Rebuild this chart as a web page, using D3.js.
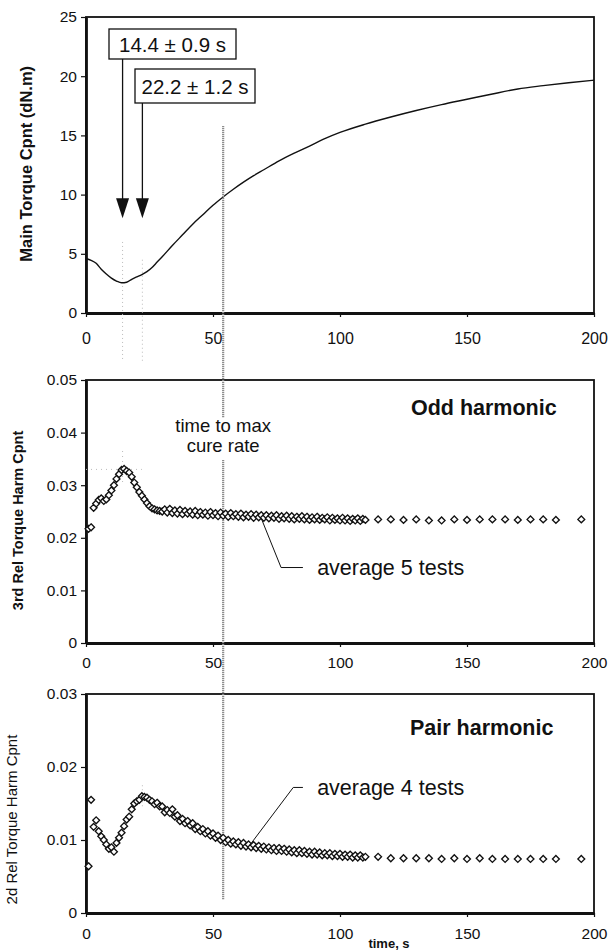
<!DOCTYPE html>
<html lang="en">
<head>
    <meta charset="UTF-8">
    <script src="https://cdn.jsdelivr.net/npm/d3@7"></script>
    <title>Torque harmonics during cure</title>
    <style>
        html, body {
            margin: 0;
            padding: 0;
            background: #fff;
        }
        svg text {
            font-family: "Liberation Sans", Arial, sans-serif;
            fill: #111;
        }
    </style>
</head>
<body>
<div id="chart"></div>
<script>

    // main torque component (dN.m) vs time (s)
    let torque_time = [0, 2, 4, 6, 8, 10, 12, 14, 16, 18, 20, 22, 24, 26, 28, 30, 34, 38, 42, 46, 50, 54, 58, 62, 66, 70, 76, 82, 88, 94, 100, 110, 120, 130, 140, 150, 160, 170, 180, 190, 200];
    let torque_value = [4.6, 4.45, 4.2, 3.7, 3.3, 2.95, 2.7, 2.55, 2.6, 2.85, 3.05, 3.25, 3.5, 3.85, 4.3, 4.75, 5.7, 6.6, 7.5, 8.3, 9.1, 9.8, 10.45, 11.05, 11.6, 12.1, 12.85, 13.5, 14.1, 14.72, 15.25, 15.95, 16.55, 17.1, 17.6, 18.05, 18.5, 18.92, 19.2, 19.45, 19.66];

    // harmonic tests share the same sampling times
    let harm_time = [1, 2, 3, 4, 5, 6, 7, 8, 9, 10, 11, 12, 13, 14, 15, 16, 17, 18, 19, 20,
        21, 22, 23, 24, 25, 26, 27, 28, 29, 30, 31, 32, 33, 34, 35, 36, 37, 38, 39, 40,
        41, 42, 43, 44, 45, 46, 47, 48, 49, 50, 51, 52, 53, 54, 55, 56, 57, 58, 59, 60,
        61, 62, 63, 64, 65, 66, 67, 68, 69, 70, 71, 72, 73, 74, 75, 76, 77, 78, 79, 80,
        81, 82, 83, 84, 85, 86, 87, 88, 89, 90, 91, 92, 93, 94, 95, 96, 97, 98, 99, 100,
        101, 102, 103, 104, 105, 106, 107, 108, 109, 110,
        115, 120, 125, 130, 135, 140, 145, 150, 155, 160, 165, 170, 175, 180, 185, 195];

    // 3rd relative torque harmonic (odd), average 5 tests
    let odd_value = [0.0217, 0.0220, 0.0257, 0.0265, 0.0272, 0.0275, 0.0270, 0.0273, 0.0281, 0.0290,
        0.0300, 0.0312, 0.0321, 0.0329, 0.0331, 0.0327, 0.0324, 0.0316, 0.0305, 0.0296,
        0.0287, 0.0280, 0.0273, 0.0266, 0.0260, 0.0256, 0.0254, 0.0252, 0.0251, 0.0250,
        0.0254, 0.0248, 0.0255, 0.0247, 0.0252, 0.0246, 0.0253, 0.0245, 0.0251, 0.0246,
        0.0250, 0.0244, 0.0251, 0.0243, 0.0249, 0.0244, 0.0248, 0.0242, 0.0249, 0.0243,
        0.0247, 0.0241, 0.0248, 0.0242, 0.0246, 0.0240, 0.0247, 0.0241, 0.0245, 0.0240,
        0.0246, 0.0239, 0.0244, 0.0240, 0.0245, 0.0238, 0.0244, 0.0239, 0.0243, 0.0238,
        0.0243, 0.0237, 0.0242, 0.0238, 0.0243, 0.0236, 0.0241, 0.0237, 0.0242, 0.0236,
        0.0241, 0.0235, 0.0240, 0.0236, 0.0241, 0.0235, 0.0240, 0.0234, 0.0239, 0.0235,
        0.0240, 0.0234, 0.0238, 0.0235, 0.0239, 0.0233, 0.0238, 0.0234, 0.0237, 0.0233,
        0.0238, 0.0233, 0.0237, 0.0232, 0.0236, 0.0233, 0.0237, 0.0232, 0.0236, 0.0234,
        0.0235, 0.0235, 0.0234, 0.0235, 0.0233, 0.0233, 0.0235, 0.0234, 0.0235, 0.0235, 0.0235, 0.0234, 0.0235, 0.0235, 0.0234, 0.0235];

    // 2d relative torque harmonic (pair), average 4 tests
    let pair_value = [0.0064, 0.0155, 0.0118, 0.0127, 0.0112, 0.0105, 0.0100, 0.0094, 0.0088, 0.0090,
        0.0084, 0.0096, 0.0103, 0.0110, 0.0119, 0.0128, 0.0132, 0.0142, 0.0150, 0.0153,
        0.0155, 0.0160, 0.0159, 0.0158, 0.0155, 0.0153, 0.0149, 0.0151, 0.0146, 0.0146,
        0.0138, 0.0141, 0.0137, 0.0142, 0.0132, 0.0134, 0.0126, 0.0129, 0.0123, 0.0126,
        0.0120, 0.0123, 0.0115, 0.0118, 0.0112, 0.0115, 0.0109, 0.0112, 0.0106, 0.0109,
        0.0103, 0.0106, 0.0100, 0.0103, 0.0097, 0.0100, 0.0095, 0.0098, 0.0094, 0.0097,
        0.0092, 0.0096, 0.0091, 0.0094, 0.0090, 0.0093, 0.0089, 0.0092, 0.0088, 0.0091,
        0.0087, 0.0090, 0.0086, 0.0089, 0.0085, 0.0089, 0.0085, 0.0088, 0.0084, 0.0087,
        0.0083, 0.0086, 0.0082, 0.0086, 0.0082, 0.0085, 0.0081, 0.0084, 0.0080, 0.0084,
        0.0080, 0.0083, 0.0079, 0.0082, 0.0079, 0.0082, 0.0078, 0.0081, 0.0078, 0.0081,
        0.0077, 0.0080, 0.0077, 0.0080, 0.0076, 0.0079, 0.0076, 0.0079, 0.0076, 0.0077,
        0.0077, 0.0075, 0.0075, 0.0075, 0.0075, 0.0074, 0.0075, 0.0074, 0.0075, 0.0074, 0.0074, 0.0074, 0.0074, 0.0074, 0.0074, 0.0074];

    let x_ticks = [0, 50, 100, 150, 200];
    let torque_ticks = [0, 5, 10, 15, 20, 25];
    let odd_ticks = [0, 0.01, 0.02, 0.03, 0.04, 0.05];
    let pair_ticks = [0, 0.01, 0.02, 0.03];

    // annotated times (s)
    let min_torque_time = 14.4;
    let max_pair_time = 22.2;
    let max_cure_rate_time = 54;

    let width = 610;
    let height = 951;

    let svg = d3.select('#chart').append('svg').attr('width', width).attr('height', height);

    let x = d3.scaleLinear().domain([0, 200]).range([86, 594]);
    let y_top = d3.scaleLinear().domain([0, 25]).range([313, 17]);
    let y_mid = d3.scaleLinear().domain([0, 0.05]).range([643, 380]);
    let y_bot = d3.scaleLinear().domain([0, 0.03]).range([913, 694]);

    let fmt = (d) => d === 0 ? '0' : d3.format('.2f')(d);

    function draw_frame(y, yticks, yfmt, xfont, xpad) {
        let g = svg.append('g');
        g.append('rect')
            .attr('x', x(0)).attr('y', y.range()[1])
            .attr('width', x(200) - x(0)).attr('height', y.range()[0] - y.range()[1])
            .attr('fill', 'none').attr('stroke', '#111').attr('stroke-width', 1.8);

        let ya = g.append('g').attr('transform', `translate(${x(0)},0)`)
            .call(d3.axisLeft(y).tickValues(yticks).tickFormat(yfmt).tickSize(5).tickSizeOuter(0).tickPadding(4));
        let xa = g.append('g').attr('transform', `translate(0,${y.range()[0]})`)
            .call(d3.axisBottom(x).tickValues(x_ticks).tickSize(4).tickSizeOuter(0).tickPadding(xpad));

        [ya, xa].forEach(a => {
            a.select('.domain').attr('stroke', '#111').attr('stroke-width', 2.8);
            a.selectAll('.tick line').attr('stroke', '#111').attr('stroke-width', 1.2);
            a.selectAll('text').attr('font-family', '"Liberation Sans", Arial, sans-serif').attr('fill', '#111');
        });
        ya.selectAll('text').attr('font-size', 15.5);
        xa.selectAll('text').attr('font-size', xfont);
        return g;
    }

    // --- top panel: main torque
    draw_frame(y_top, torque_ticks, d3.format('d'), 16, 16);

    // faint guides at the two annotated times
    [[min_torque_time, 6.0], [max_pair_time, 4.5]].forEach(([t, v]) => {
        svg.append('line')
            .attr('x1', x(t)).attr('x2', x(t))
            .attr('y1', y_top(v)).attr('y2', y_top(0) + 48)
            .attr('stroke', '#bbb').attr('stroke-width', 1).attr('stroke-dasharray', '1,3');
    });

    svg.append('path')
        .datum(torque_time.map((t, i) => [t, torque_value[i]]))
        .attr('d', d3.line().x(d => x(d[0])).y(d => y_top(d[1])).curve(d3.curveMonotoneX))
        .attr('fill', 'none').attr('stroke', '#111').attr('stroke-width', 1.4);

    svg.append('text')
        .attr('transform', `translate(32,${y_top(12.6)}) rotate(-90)`)
        .attr('text-anchor', 'middle').attr('font-size', 16.5).attr('font-weight', 'bold')
        .text('Main Torque Cpnt (dN.m)');

    // boxed labels with arrows
    let boxes = [
        { t: min_torque_time, label: '14.4 \u00b1 0.9 s', x0: 109, x1: 236, top: 29, bottom: 59 },
        { t: max_pair_time, label: '22.2 \u00b1 1.2 s', x0: 135, x1: 255, top: 69, bottom: 103 }
    ];
    boxes.forEach(b => {
        svg.append('rect')
            .attr('x', b.x0).attr('y', b.top).attr('width', b.x1 - b.x0).attr('height', b.bottom - b.top)
            .attr('fill', '#fff').attr('stroke', '#111').attr('stroke-width', 1.3);
        svg.append('text')
            .attr('x', (b.x0 + b.x1) / 2).attr('y', (b.top + b.bottom) / 2 + 7.5)
            .attr('text-anchor', 'middle').attr('font-size', 20.5)
            .text(b.label);
        let ax = x(b.t);
        let tip = y_top(8);
        svg.append('line')
            .attr('x1', ax).attr('x2', ax).attr('y1', b.bottom).attr('y2', tip - 14)
            .attr('stroke', '#111').attr('stroke-width', 1.3);
        svg.append('path')
            .attr('d', `M${ax - 6.5},${tip - 20}L${ax + 6.5},${tip - 20}L${ax},${tip}Z`)
            .attr('fill', '#111');
    });

    // --- middle panel: odd harmonic
    draw_frame(y_mid, odd_ticks, fmt, 15.5, 10);

    svg.append('line')
        .attr('x1', x(0)).attr('x2', x(22))
        .attr('y1', y_mid(0.033)).attr('y2', y_mid(0.033))
        .attr('stroke', '#bbb').attr('stroke-width', 1).attr('stroke-dasharray', '1,4');
    svg.append('line')
        .attr('x1', x(min_torque_time)).attr('x2', x(min_torque_time))
        .attr('y1', y_mid(0.0365)).attr('y2', y_mid(0.030))
        .attr('stroke', '#bbb').attr('stroke-width', 1).attr('stroke-dasharray', '1,4');

    svg.append('text')
        .attr('transform', `translate(23,${y_mid(0.0233)}) rotate(-90)`)
        .attr('text-anchor', 'middle').attr('font-size', 14.5).attr('font-weight', 'bold')
        .text('3rd Rel Torque Harm Cpnt');

    // --- bottom panel: pair harmonic
    draw_frame(y_bot, pair_ticks, fmt, 15.5, 11);

    svg.append('line')
        .attr('x1', x(max_pair_time)).attr('x2', x(max_pair_time))
        .attr('y1', y_bot(0.0175)).attr('y2', y_bot(0.0145))
        .attr('stroke', '#bbb').attr('stroke-width', 1).attr('stroke-dasharray', '1,3');

    svg.append('text')
        .attr('transform', `translate(17,${y_bot(0.0128)}) rotate(-90)`)
        .attr('text-anchor', 'middle').attr('font-size', 15)
        .text('2d Rel Torque Harm Cpnt');

    svg.append('text')
        .attr('x', 389).attr('y', 948)
        .attr('text-anchor', 'middle').attr('font-size', 13).attr('font-weight', 'bold')
        .text('time, s');

    // stippled line marking time to max cure rate, across all panels
    svg.append('line')
        .attr('x1', x(max_cure_rate_time)).attr('x2', x(max_cure_rate_time))
        .attr('y1', y_top(15.8)).attr('y2', y_bot(0.0018))
        .attr('stroke', '#8c8c8c').attr('stroke-width', 2.2).attr('stroke-dasharray', '1.2,0.8');

    svg.append('rect')
        .attr('x', x(max_cure_rate_time) - 50).attr('y', 418)
        .attr('width', 100).attr('height', 42).attr('fill', '#fff');
    ['time to max', 'cure rate'].forEach((s, i) => {
        svg.append('text')
            .attr('x', x(max_cure_rate_time)).attr('y', 432 + i * 20)
            .attr('text-anchor', 'middle').attr('font-size', 18.5)
            .text(s);
    });

    // diamond markers
    let diamond = d3.symbol().type(d3.symbolDiamond2).size(30);

    function draw_points(values, y) {
        svg.append('g').selectAll('path')
            .data(harm_time.map((t, i) => [t, values[i]]))
            .join('path')
            .attr('transform', d => `translate(${x(d[0])},${y(d[1])})`)
            .attr('d', diamond)
            .attr('fill', '#fff').attr('stroke', '#111').attr('stroke-width', 1.35);
    }
    draw_points(odd_value, y_mid);
    draw_points(pair_value, y_bot);

    // callouts
    svg.append('path')
        .attr('d', `M${x(69)},${y_mid(0.0237)}L${x(76.8)},${y_mid(0.01435)}L${x(85.4)},${y_mid(0.01435)}`)
        .attr('fill', 'none').attr('stroke', '#111').attr('stroke-width', 1);
    svg.append('text')
        .attr('x', x(91)).attr('y', y_mid(0.01435) + 7.5)
        .attr('font-size', 21.5)
        .text('average 5 tests');

    svg.append('path')
        .attr('d', `M${x(64.5)},${y_bot(0.0093)}L${x(81.6)},${y_bot(0.0172)}L${x(85.4)},${y_bot(0.0172)}`)
        .attr('fill', 'none').attr('stroke', '#111').attr('stroke-width', 1);
    svg.append('text')
        .attr('x', x(91)).attr('y', y_bot(0.0172) + 7.5)
        .attr('font-size', 21.5)
        .text('average 4 tests');

    svg.append('text')
        .attr('x', x(185.3)).attr('y', y_mid(0.0433))
        .attr('text-anchor', 'end').attr('font-size', 21.5).attr('font-weight', 'bold')
        .text('Odd harmonic');
    svg.append('text')
        .attr('x', x(184)).attr('y', y_bot(0.0244))
        .attr('text-anchor', 'end').attr('font-size', 21.5).attr('font-weight', 'bold')
        .text('Pair harmonic');

</script>
</body>
</html>
